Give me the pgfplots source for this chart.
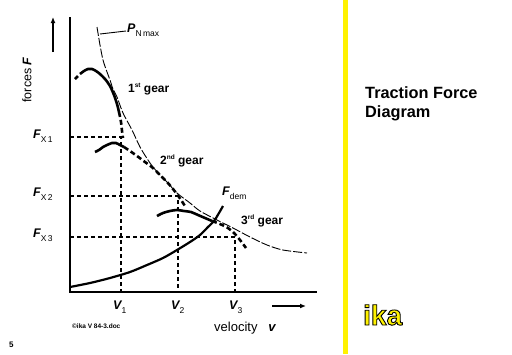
\documentclass[border=0pt]{standalone}
\usepackage{pgfplots}
\pgfplotsset{compat=1.18}
\usetikzlibrary{arrows.meta}
\usepackage{fontspec}
\setmainfont{Liberation Sans}
\newcommand{\bi}{\bfseries\itshape}
\newcommand{\sub}[1]{\raisebox{-0.32em}{\fontsize{8.5}{9}\selectfont\mdseries\upshape #1}}
\newcommand{\sups}[1]{\raisebox{0.38em}{\fontsize{6.5}{7}\selectfont #1}}
\newcommand{\ikatext}{\fontsize{28}{30}\selectfont\bfseries\color{yellow}\special{pdf:literal direct 0 G 2 Tr 0.9 w}ika\special{pdf:literal direct 0 Tr}}
\begin{document}
\begin{tikzpicture}
\begin{axis}[
  width=512pt, height=354pt, scale only axis,
  xmin=0, xmax=512, ymin=0, ymax=354, y dir=reverse,
  hide axis, clip=false,
]
\path (rel axis cs:0,0) rectangle (rel axis cs:1,1);
% yellow bar
\addplot[draw=none, fill=yellow] coordinates {(343,0) (348,0) (348,354) (343,354)} -- cycle;
% axes
\addplot[black, line width=2.5pt] coordinates {(70,17) (70,292) (317,292)};
% direction arrows
\addplot[black, line width=1.8pt, -{Latex[length=6pt,width=5pt]}] coordinates {(53,52) (53,17)};
\addplot[black, line width=1.5pt, -{Latex[length=6pt,width=5pt]}] coordinates {(272,306) (306,306)};
% dashed construction lines
\addplot[black, line width=1.4pt, dash pattern=on 4pt off 3pt] coordinates {(70,137) (121,137) (121,292)};
\addplot[black, line width=1.4pt, dash pattern=on 4pt off 3pt] coordinates {(70,196) (178,196) (178,292)};
\addplot[black, line width=1.4pt, dash pattern=on 4pt off 3pt] coordinates {(70,237) (235,237) (235,292)};
% P_Nmax hyperbola
\addplot[black, line width=0.9pt, smooth, dash pattern=on 9pt off 2pt] coordinates {
 (97,27) (100,45) (103,60) (107,72) (110,80) (113,89) (117,97) (123,113) (132,130)
 (140,147) (148,160) (153,167) (160,175) (167,182) (177,193) (190,203) (200,211)
 (217,220) (233,228) (250,237) (267,245) (283,250) (307,253)};
\addplot[black, line width=0.9pt] coordinates {(100,34) (126,31)};
% 1st gear
\addplot[black, line width=2.6pt] coordinates {(75,79) (78,76)};
\addplot[black, line width=2.6pt, smooth] coordinates {
 (80,74) (84,71) (88,69) (92,69) (96,71) (100,74) (105,79) (110,86) (114,95) (117,104) (119,112)};
\addplot[black, line width=2.6pt, smooth, dash pattern=on 5pt off 3pt] coordinates {
 (119,112) (121,122) (122,131) (123,138)};
% 2nd gear
\addplot[black, line width=2.6pt, smooth] coordinates {
 (95,152) (99,150) (103,147) (107,145) (112,143) (116,143) (120,145) (124,147)};
\addplot[black, line width=2.6pt, smooth, dash pattern=on 5pt off 3pt] coordinates {
 (124,147) (130,151) (137,156) (145,162) (153,168) (160,175) (167,182) (173,189) (179,197) (185,206)};
% 3rd gear
\addplot[black, line width=2.6pt, smooth] coordinates {
 (157,216) (163,213) (170,211) (177,210) (184,211) (191,212) (198,215) (205,218) (212,221)};
\addplot[black, line width=2.6pt, smooth, dash pattern=on 5pt off 3pt] coordinates {
 (212,221) (220,224) (228,228) (234,233) (240,240) (246,248)};
% F_dem
\addplot[black, line width=2.2pt, smooth] coordinates {
 (70,287) (90,283) (110,278) (130,272) (147,265) (163,258) (177,250) (190,242)
 (200,235) (208,227) (214,221) (219,213) (223,206)};
% labels
\node[anchor=base west, inner sep=0pt, font=\fontsize{12.5}{14}\selectfont] at (axis cs:33,138) {{\bi F}\sub{X\,1}};
\node[anchor=base west, inner sep=0pt, font=\fontsize{12.5}{14}\selectfont] at (axis cs:33,196) {{\bi F}\sub{X\,2}};
\node[anchor=base west, inner sep=0pt, font=\fontsize{12.5}{14}\selectfont] at (axis cs:33,237) {{\bi F}\sub{X\,3}};
\node[anchor=base west, inner sep=0pt, font=\fontsize{12.5}{14}\selectfont] at (axis cs:113,309) {{\bi V}\sub{1}};
\node[anchor=base west, inner sep=0pt, font=\fontsize{12.5}{14}\selectfont] at (axis cs:171,309) {{\bi V}\sub{2}};
\node[anchor=base west, inner sep=0pt, font=\fontsize{12.5}{14}\selectfont] at (axis cs:229,309) {{\bi V}\sub{3}};
\node[anchor=base west, inner sep=0pt, font=\fontsize{12.5}{14}\selectfont] at (axis cs:127,32) {{\bi P}\sub{N\,max}};
\node[anchor=base west, inner sep=0pt, font=\fontsize{12.5}{14}\selectfont] at (axis cs:222,195) {{\bi F}\sub{dem}};
\node[anchor=base west, inner sep=0pt, font=\fontsize{12}{14}\selectfont\bfseries] at (axis cs:128,92) {1\sups{st} gear};
\node[anchor=base west, inner sep=0pt, font=\fontsize{12}{14}\selectfont\bfseries] at (axis cs:160,164) {2\sups{nd} gear};
\node[anchor=base west, inner sep=0pt, font=\fontsize{12}{14}\selectfont\bfseries] at (axis cs:241,224) {3\sups{rd} gear};
\node[rotate=90, inner sep=0pt, font=\fontsize{12.5}{14}\selectfont] at (axis cs:27,80) {forces {\bi F}};
\node[anchor=base west, inner sep=0pt, font=\fontsize{13}{14}\selectfont] at (axis cs:214,331) {velocity\ \ \ {\bi v}};
\node[anchor=base west, inner sep=0pt, font=\fontsize{6.5}{7}\selectfont\bfseries] at (axis cs:72,328) {\textcopyright ika V 84-3.doc};
\node[anchor=base west, inner sep=0pt, font=\fontsize{8}{9}\selectfont\bfseries] at (axis cs:9,347) {5};
\node[anchor=base west, inner sep=0pt, font=\fontsize{16.3}{19}\selectfont\bfseries, align=left] at (axis cs:365,117) {Traction Force\\Diagram};
% ika logo, yellow with black outline
\node[anchor=base west, inner sep=0pt] at (axis cs:363,325) {\ikatext};
\end{axis}
\end{tikzpicture}
\end{document}
